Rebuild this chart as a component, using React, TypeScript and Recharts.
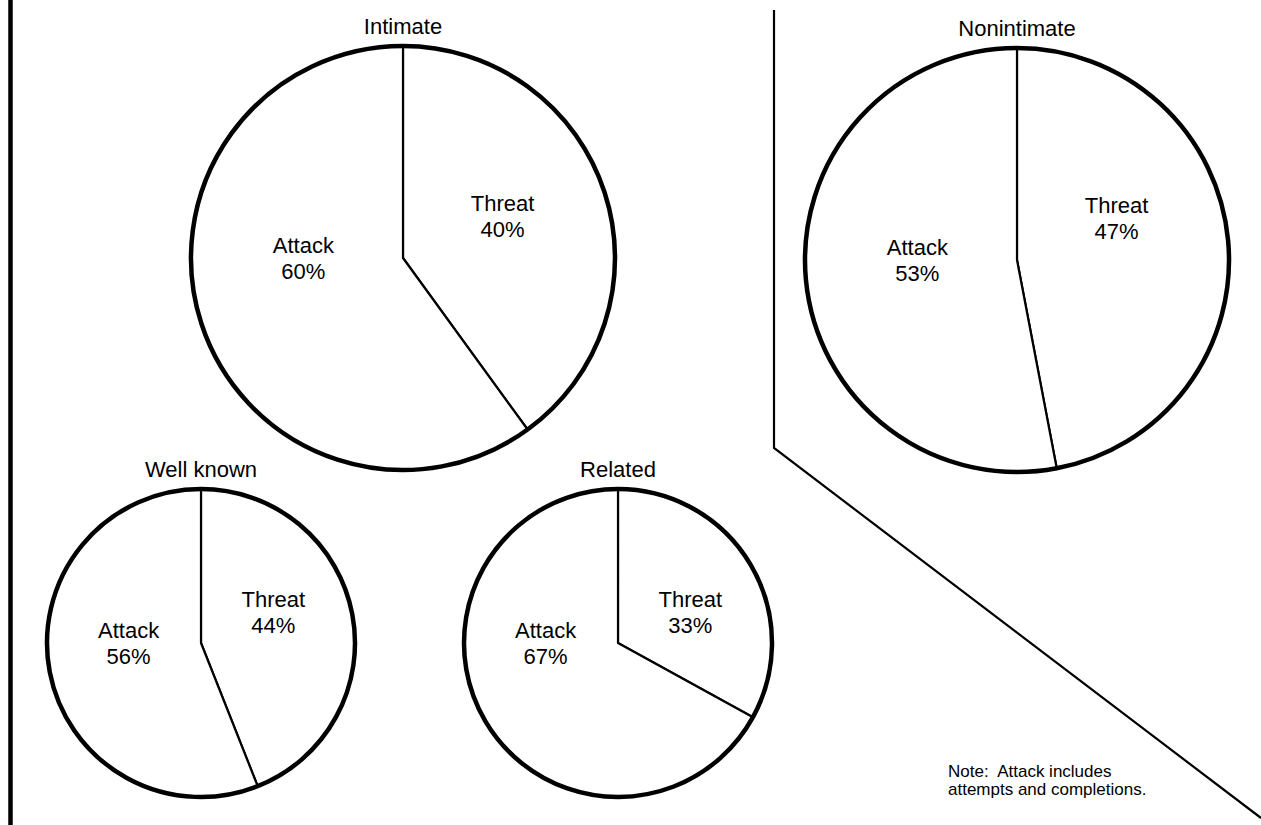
import { PieChart, Pie } from "recharts";

const sliceNames = ["Threat", "Attack"];
const intimateShares = [40, 60];
const nonintimateShares = [47, 53];
const wellKnownShares = [44, 56];
const relatedShares = [33, 67];
const relationTitles = ["Intimate", "Nonintimate", "Well known", "Related"];
const noteLines = ["Note:  Attack includes", "attempts and completions."];

const FONT = '"Liberation Sans", Arial, Helvetica, sans-serif';
const W = 1261;
const H = 825;
const RAD = Math.PI / 180;

const toRows = (shares: number[]) =>
  sliceNames.map((name, i) => ({ name, value: shares[i] }));

// where each pie sits on the page (centre + radius, px)
const panels = [
  { title: relationTitles[0], data: toRows(intimateShares), cx: 403, cy: 258, r: 212 },
  { title: relationTitles[1], data: toRows(nonintimateShares), cx: 1017, cy: 260, r: 212 },
  { title: relationTitles[2], data: toRows(wellKnownShares), cx: 201, cy: 643, r: 154 },
  { title: relationTitles[3], data: toRows(relatedShares), cx: 618, cy: 643, r: 154 },
];

const polar = (cx: number, cy: number, r: number, a: number) => ({
  x: cx + r * Math.cos(-a * RAD),
  y: cy + r * Math.sin(-a * RAD),
});

// thin radial edges, heavy outer rim
function OutlinedSlice(props: any) {
  const { cx, cy, outerRadius, startAngle, endAngle } = props;
  const s = polar(cx, cy, outerRadius, startAngle);
  const e = polar(cx, cy, outerRadius, endAngle);
  const large = Math.abs(startAngle - endAngle) > 180 ? 1 : 0;
  const sweep = startAngle > endAngle ? 1 : 0;
  const arc = `A${outerRadius},${outerRadius} 0 ${large} ${sweep} ${e.x},${e.y}`;
  return (
    <g>
      <path
        d={`M${cx},${cy} L${s.x},${s.y} ${arc} Z`}
        fill="#fff"
        stroke="#000"
        strokeWidth={2.2}
        strokeLinejoin="round"
      />
      <path d={`M${s.x},${s.y} ${arc}`} fill="none" stroke="#000" strokeWidth={4.5} />
    </g>
  );
}

function sliceLabel(props: any) {
  const { cx, cy, midAngle, outerRadius } = props;
  const name = props.name ?? props.payload?.name;
  const value = props.value ?? props.payload?.value;
  const right = Math.cos(-midAngle * RAD) > 0;
  const x = cx + (right ? 1 : -1) * outerRadius * 0.47;
  const y = cy - (right ? outerRadius * 0.2 : 0);
  const common = { x, textAnchor: "middle" as const, fontSize: 22, fontFamily: FONT, fill: "#000" };
  return (
    <g>
      <text {...common} y={y - 5}>{name}</text>
      <text {...common} y={y + 21}>{value}%</text>
    </g>
  );
}

export default function App() {
  return (
    <div style={{ position: "absolute", left: 0, top: 0, width: W, height: H, background: "#fff" }}>
      <PieChart width={W} height={H} margin={{ top: 0, right: 0, bottom: 0, left: 0 }}>
        {panels.map((p) => (
          <Pie
            key={p.title}
            data={p.data}
            dataKey="value"
            nameKey="name"
            cx={p.cx}
            cy={p.cy}
            outerRadius={p.r}
            startAngle={90}
            endAngle={-270}
            stroke="#000"
            fill="#fff"
            inactiveShape={OutlinedSlice}
            activeShape={OutlinedSlice}
            shape={OutlinedSlice}
            label={sliceLabel}
            labelLine={false}
            isAnimationActive={false}
          />
        ))}
      </PieChart>
      <svg
        width={W}
        height={H}
        style={{ position: "absolute", left: 0, top: 0, pointerEvents: "none" }}
      >
        <line x1={10.5} y1={0} x2={10.5} y2={H} stroke="#000" strokeWidth={4.5} />
        <polyline
          points={`774,10 774,448 ${W},818`}
          fill="none"
          stroke="#000"
          strokeWidth={2.2}
        />
        {panels.map((p) => (
          <text
            key={p.title}
            x={p.cx}
            y={p.cy - p.r - 12}
            textAnchor="middle"
            fontSize={22}
            fontFamily={FONT}
            fill="#000"
          >
            {p.title}
          </text>
        ))}
        {noteLines.map((line, i) => (
          <text
            key={line}
            x={948}
            y={777 + i * 18}
            fontSize={17}
            fontFamily={FONT}
            fill="#000"
            style={{ whiteSpace: "pre" }}
          >
            {line}
          </text>
        ))}
      </svg>
    </div>
  );
}
